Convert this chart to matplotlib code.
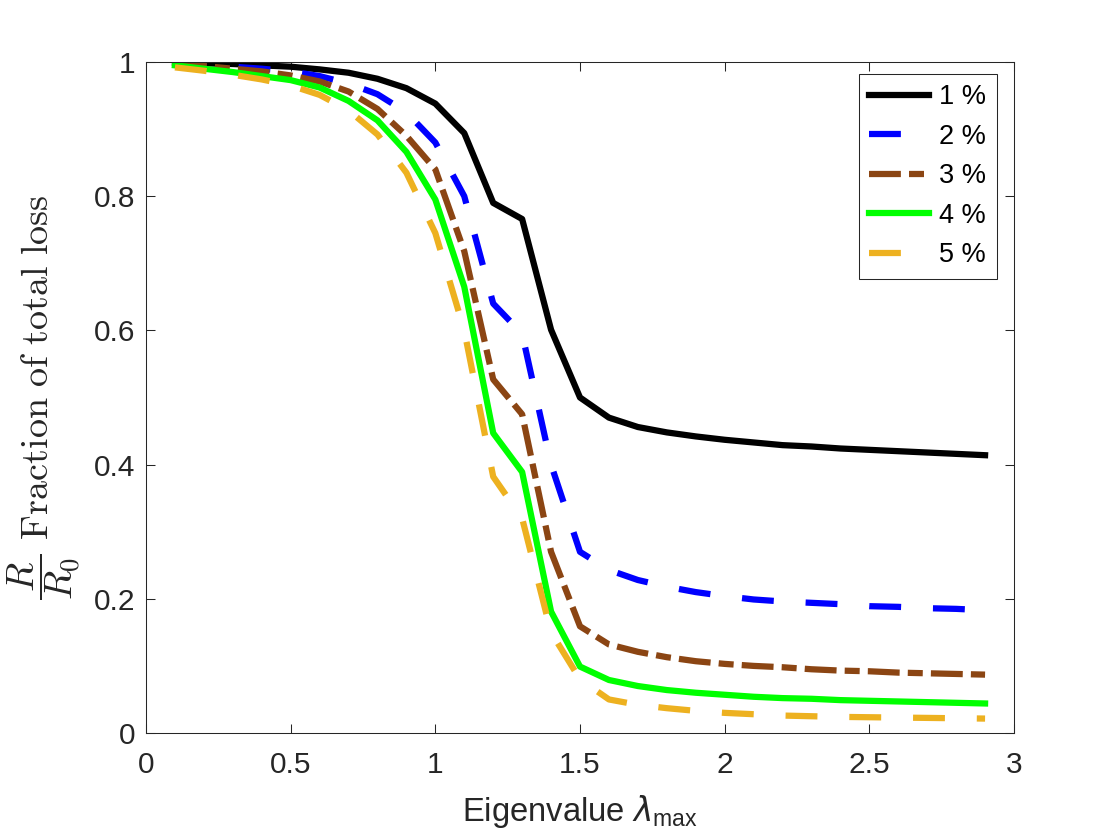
import matplotlib
matplotlib.use('Agg')
import matplotlib.pyplot as plt

plt.rcParams['font.family'] = ['Liberation Sans', 'DejaVu Sans']

# eigenvalue grid and the five loss curves
lam = [0.1, 0.2, 0.3, 0.4, 0.5, 0.6, 0.7, 0.8, 0.9, 1.0,
       1.1, 1.2, 1.3, 1.4, 1.5, 1.6, 1.7, 1.8, 1.9, 2.0,
       2.1, 2.2, 2.3, 2.4, 2.5, 2.6, 2.7, 2.8, 2.9]

loss_1 = [0.999, 0.998, 0.997, 0.995, 0.993, 0.989, 0.984, 0.975, 0.961, 0.938,
          0.894, 0.790, 0.766, 0.601, 0.500, 0.470, 0.456, 0.448, 0.442, 0.437,
          0.433, 0.429, 0.427, 0.424, 0.422, 0.420, 0.418, 0.416, 0.414]
loss_2 = [0.998, 0.996, 0.993, 0.990, 0.986, 0.979, 0.968, 0.952, 0.925, 0.880,
          0.800, 0.640, 0.595, 0.400, 0.270, 0.243, 0.228, 0.218, 0.210, 0.204,
          0.199, 0.196, 0.194, 0.192, 0.189, 0.188, 0.186, 0.185, 0.183]
loss_3 = [0.997, 0.994, 0.990, 0.986, 0.980, 0.971, 0.956, 0.930, 0.890, 0.840,
          0.718, 0.527, 0.475, 0.270, 0.159, 0.132, 0.121, 0.113, 0.107, 0.103,
          0.100, 0.098, 0.095, 0.093, 0.092, 0.090, 0.089, 0.088, 0.087]
loss_4 = [0.995, 0.990, 0.985, 0.979, 0.973, 0.962, 0.942, 0.913, 0.866, 0.795,
          0.665, 0.447, 0.389, 0.181, 0.099, 0.079, 0.070, 0.064, 0.060, 0.057,
          0.054, 0.052, 0.051, 0.049, 0.048, 0.047, 0.046, 0.045, 0.044]
loss_5 = [0.992, 0.987, 0.981, 0.974, 0.965, 0.951, 0.928, 0.892, 0.835, 0.745,
          0.600, 0.382, 0.320, 0.150, 0.080, 0.050, 0.042, 0.037, 0.033, 0.030,
          0.028, 0.026, 0.025, 0.024, 0.0235, 0.023, 0.0225, 0.022, 0.0215]

labels = ['1 %', '2 %', '3 %', '4 %', '5 %']

x_ticks = [0, 0.5, 1, 1.5, 2, 2.5, 3]
x_tick_labels = ['0', '0.5', '1', '1.5', '2', '2.5', '3']
y_ticks = [0, 0.2, 0.4, 0.6, 0.8, 1]
y_tick_labels = ['0', '0.2', '0.4', '0.6', '0.8', '1']

fig = plt.figure(figsize=(11.2, 8.4), dpi=100)
ax = fig.add_axes([146 / 1120, 107 / 840, 868 / 1120, 671 / 840])

lw = 4.5
ax.plot(lam, loss_1, color='black', lw=lw, label=labels[0])
ax.plot(lam, loss_2, color='#0000FF', lw=lw, linestyle=(0, (5.1, 5.1)), label=labels[1])
ax.plot(lam, loss_3, color='#8B4513', lw=lw, linestyle=(0, (5.1, 1.3, 2.4, 1.3)), label=labels[2])
ax.plot(lam, loss_4, color='#00FF00', lw=lw, label=labels[3])
ax.plot(lam, loss_5, color='#EDB120', lw=lw, linestyle=(0, (5.1, 5.1)), label=labels[4])

ax.set_xlim(0, 3)
ax.set_ylim(0, 1)
ax.set_xticks(x_ticks)
ax.set_xticklabels(x_tick_labels)
ax.set_yticks(y_ticks)
ax.set_yticklabels(y_tick_labels)

dark = '#262626'
ax.tick_params(axis='both', direction='in', length=6.5, width=0.75,
               top=True, right=True, labelsize=21.5, colors=dark)
ax.tick_params(axis='x', pad=13)
ax.tick_params(axis='y', pad=7.5)
for s in ax.spines.values():
    s.set_linewidth(0.75)
    s.set_color(dark)

ax.set_xlabel(r'Eigenvalue $\lambda_{\mathregular{max}}$', fontsize=23.6, color=dark)
ax.xaxis.set_label_coords(0.5, -0.0894)
ax.set_ylabel(r'$\dfrac{R}{R_0}\ \mathrm{Fraction\ of\ total\ loss}$',
              fontsize=27.5, math_fontfamily='cm', color=dark)
ax.yaxis.set_label_coords(-0.0726, 0.5)

leg = ax.legend(loc='upper right', bbox_to_anchor=(996.7 / 1120, 1 - 74 / 840),
                bbox_transform=fig.transFigure, borderaxespad=0, fontsize=19.5,
                handlelength=2.2, handletextpad=0.4, labelspacing=0.5,
                borderpad=0.38, fancybox=False, framealpha=1, edgecolor=dark)
leg.get_frame().set_linewidth(0.75)

fig.savefig('out.png', dpi=100)
